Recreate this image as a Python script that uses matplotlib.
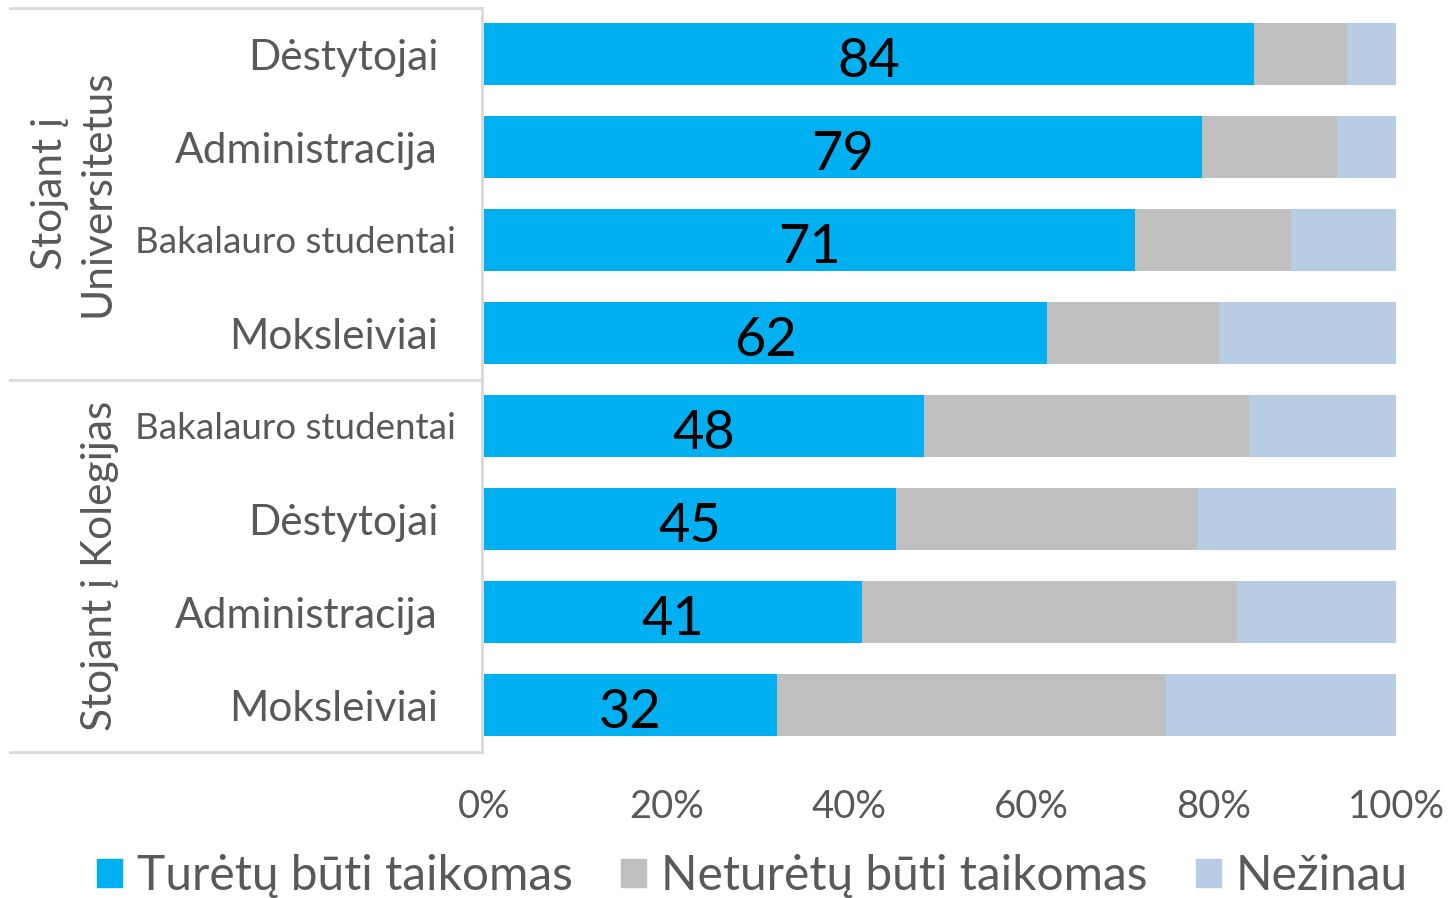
import matplotlib.pyplot as plt
from matplotlib.patches import Patch

plt.rcParams['font.family'] = ['Lato', 'DejaVu Sans']

categories = ['Dėstytojai', 'Administracija', 'Bakalauro studentai', 'Moksleiviai',
              'Bakalauro studentai', 'Dėstytojai', 'Administracija', 'Moksleiviai']
groups = ['Stojant į\nUniversitetus', 'Stojant į Kolegijas']
series = ['Turėtų būti taikomas', 'Neturėtų būti taikomas', 'Nežinau']
taikomas = [84.4, 78.7, 71.4, 61.7, 48.2, 45.2, 41.4, 32.1]
netaikomas = [10.2, 14.8, 17.1, 18.9, 35.7, 33.1, 41.2, 42.7]
nezinau = [5.4, 6.5, 11.5, 19.4, 16.1, 21.7, 17.4, 25.2]
colors = ['#00B0F0', '#BFBFBF', '#B8CCE4']
txt = '#595959'
line_c = '#D9D9D9'

fig = plt.figure(figsize=(14.5, 8.98), dpi=100)
ax = fig.add_axes([484 / 1450, 1 - 751.5 / 898, 912 / 1450, 744 / 898])

y = list(range(len(categories)))
left = [0] * len(y)
for vals, c in zip([taikomas, netaikomas, nezinau], colors):
    ax.barh(y, vals, left=left, height=0.656, color=c, edgecolor='none')
    left = [l + v for l, v in zip(left, vals)]

for i, v in enumerate(taikomas):
    ax.text(v / 2, i + 0.08, '%.0f' % v, ha='center', va='center', fontsize=39, color='black')

ax.set_xlim(0, 100)
ax.set_ylim(7.5, -0.5)
ax.set_xticks([0, 20, 40, 60, 80, 100])
ax.set_xticklabels(['%d%%' % t for t in [0, 20, 40, 60, 80, 100]], fontsize=27.5, color=txt)
ax.tick_params(axis='x', length=0, pad=27)
ax.set_yticks([])
for s in ax.spines.values():
    s.set_visible(False)

# category labels and group box
tr = ax.get_yaxis_transform()
for i, cat in enumerate(categories):
    if cat == 'Bakalauro studentai':
        ax.text(-0.0307, i + 0.03, cat, transform=tr, ha='right', va='center', fontsize=26.5, color=txt)
    else:
        ax.text(-0.0504, i + 0.04, cat, transform=tr, ha='right', va='center', fontsize=30.5, color=txt)

x0 = (10 - 484) / 912
for yy in [-0.5, 3.5, 7.5]:
    ax.plot([x0, -0.002], [yy, yy], transform=tr, color=line_c, lw=2, clip_on=False)
ax.plot([-0.002, -0.002], [-0.5, 7.5], transform=tr, color=line_c, lw=2, clip_on=False)

ax.text((74 - 484) / 912, 1.5, groups[0], transform=tr, rotation=90, ha='center', va='center',
        fontsize=30.5, color=txt, multialignment='center', linespacing=1.32)
ax.text((100 - 484) / 912, 5.5, groups[1], transform=tr, rotation=90, ha='center', va='center',
        fontsize=30.5, color=txt)

handles = [Patch(color=c) for c in colors]
fig.legend(handles, series, loc='center', bbox_to_anchor=(0.519, 1 - 876 / 898), ncol=3,
           frameon=False, fontsize=34.5, labelcolor=txt, handlelength=0.52, handleheight=0.52,
           handletextpad=0.32, columnspacing=1.0, borderpad=0, borderaxespad=0)

fig.savefig('out.png', dpi=100)
